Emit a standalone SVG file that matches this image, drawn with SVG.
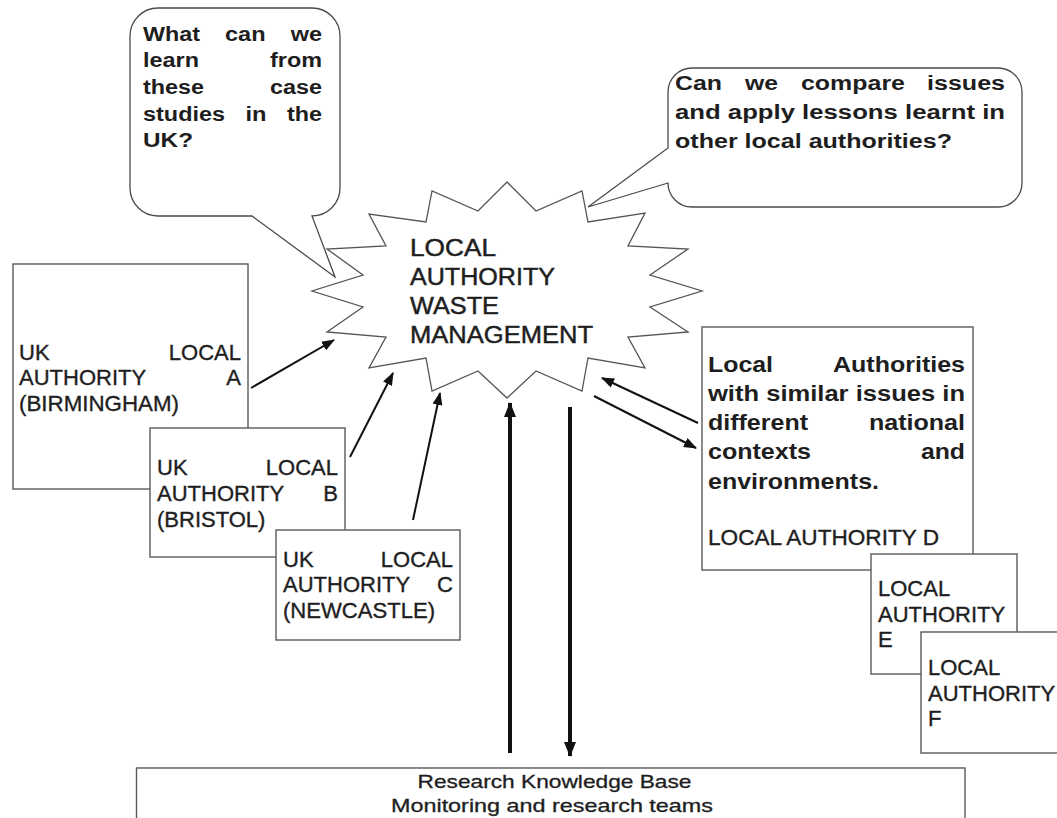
<svg xmlns="http://www.w3.org/2000/svg" width="1057" height="818" viewBox="0 0 1057 818">
<style>
text { font-family: "Liberation Sans", Arial, Helvetica, sans-serif; fill: #1e1e1e; }
.qb { font-size: 20px; font-weight: bold; }
.db { font-size: 22px; font-weight: bold; }
.rg { font-size: 22px; stroke: #1e1e1e; stroke-width: 0.35; }
.st { font-size: 23px; stroke: #1e1e1e; stroke-width: 0.45; }
.bt { font-size: 18.5px; stroke: #1e1e1e; stroke-width: 0.3; }
.box { fill: #fff; stroke: #5a5a5a; stroke-width: 1.4; }
.bub { fill: #fff; stroke: #4a4a4a; stroke-width: 1.3; }
.star { fill: #fff; stroke: #555; stroke-width: 1.3; }
.arr { stroke: #111; stroke-width: 2; fill: none; marker-end: url(#ah); }
.arrv { stroke: #111; stroke-width: 4; fill: none; marker-end: url(#ahb); }
</style>
<defs>
<marker id="ah" markerUnits="userSpaceOnUse" markerWidth="14" markerHeight="10" refX="12" refY="5" orient="auto"><path d="M0,0 L13,5 L0,10 z" fill="#111"/></marker>
<marker id="ahb" markerUnits="userSpaceOnUse" markerWidth="16" markerHeight="12" refX="14" refY="6" orient="auto"><path d="M0,0 L15,6 L0,12 z" fill="#111"/></marker>
</defs>
<rect width="1057" height="818" fill="#fff"/>

<g id="central-star">
<polygon class="star" points="507,182 536,211 582,191 588,222 645,213 628,246 688,249 650,275 702,291 650,307 688,332 628,337 645,368 588,358 582,391 536,371 507,398 478,371 432,391 426,358 369,368 386,337 327,332 363,307 312,291 363,275 327,249 386,246 369,214 426,222 432,191 478,211"/>
<text class="st" x="410" y="256" textLength="86" lengthAdjust="spacingAndGlyphs">LOCAL</text>
<text class="st" x="410" y="285" textLength="145" lengthAdjust="spacingAndGlyphs">AUTHORITY</text>
<text class="st" x="410" y="314" textLength="89" lengthAdjust="spacingAndGlyphs">WASTE</text>
<text class="st" x="410" y="343" textLength="183" lengthAdjust="spacingAndGlyphs">MANAGEMENT</text>
</g>

<g id="bubble-uk">
<path class="bub" d="M158,8 H312 A28,28 0 0 1 340,36 V188 A28,28 0 0 1 312,216 L335,277 L252,216 H158 A28,28 0 0 1 130,188 V36 A28,28 0 0 1 158,8 Z"/>
<text class="qb" x="143" y="41" textLength="57" lengthAdjust="spacingAndGlyphs">What</text>
<text class="qb" x="225" y="41" textLength="40.5" lengthAdjust="spacingAndGlyphs">can</text>
<text class="qb" x="290.7" y="41" textLength="31.3" lengthAdjust="spacingAndGlyphs">we</text>
<text class="qb" x="143" y="67" textLength="56" lengthAdjust="spacingAndGlyphs">learn</text>
<text class="qb" x="270" y="67" textLength="52" lengthAdjust="spacingAndGlyphs">from</text>
<text class="qb" x="143" y="94" textLength="61" lengthAdjust="spacingAndGlyphs">these</text>
<text class="qb" x="270" y="94" textLength="52" lengthAdjust="spacingAndGlyphs">case</text>
<text class="qb" x="143" y="121" textLength="82" lengthAdjust="spacingAndGlyphs">studies</text>
<text class="qb" x="245.5" y="121" textLength="21" lengthAdjust="spacingAndGlyphs">in</text>
<text class="qb" x="287" y="121" textLength="35" lengthAdjust="spacingAndGlyphs">the</text>
<text class="qb" x="143" y="147" textLength="50" lengthAdjust="spacingAndGlyphs">UK?</text>
</g>

<g id="bubble-compare">
<path class="bub" d="M692,68 H998 A24,24 0 0 1 1022,92 V183 A24,24 0 0 1 998,207 H692 A24,24 0 0 1 668,183 L588,207 L668,148 V92 A24,24 0 0 1 692,68 Z"/>
<text class="qb" x="675" y="90" textLength="47" lengthAdjust="spacingAndGlyphs">Can</text>
<text class="qb" x="745" y="90" textLength="33" lengthAdjust="spacingAndGlyphs">we</text>
<text class="qb" x="801" y="90" textLength="104" lengthAdjust="spacingAndGlyphs">compare</text>
<text class="qb" x="927" y="90" textLength="78" lengthAdjust="spacingAndGlyphs">issues</text>
<text class="qb" x="675" y="119" textLength="330" lengthAdjust="spacingAndGlyphs">and apply lessons learnt in</text>
<text class="qb" x="675" y="148" textLength="277" lengthAdjust="spacingAndGlyphs">other local authorities?</text>
</g>

<g id="la-a">
<rect class="box" x="13" y="264" width="235" height="225"/>
<text class="rg" x="19" y="360">UK</text>
<text class="rg" x="241" y="360" text-anchor="end">LOCAL</text>
<text class="rg" x="19" y="385">AUTHORITY</text>
<text class="rg" x="241" y="385" text-anchor="end">A</text>
<text class="rg" x="19" y="411" textLength="160" lengthAdjust="spacingAndGlyphs">(BIRMINGHAM)</text>
</g>

<g id="la-b">
<rect class="box" x="150" y="428" width="195" height="129"/>
<text class="rg" x="157" y="475">UK</text>
<text class="rg" x="338" y="475" text-anchor="end">LOCAL</text>
<text class="rg" x="157" y="501">AUTHORITY</text>
<text class="rg" x="338" y="501" text-anchor="end">B</text>
<text class="rg" x="157" y="527">(BRISTOL)</text>
</g>

<g id="la-c">
<rect class="box" x="276" y="530" width="184" height="110"/>
<text class="rg" x="283" y="567">UK</text>
<text class="rg" x="453" y="567" text-anchor="end">LOCAL</text>
<text class="rg" x="283" y="592">AUTHORITY</text>
<text class="rg" x="453" y="592" text-anchor="end">C</text>
<text class="rg" x="283" y="618" textLength="152" lengthAdjust="spacingAndGlyphs">(NEWCASTLE)</text>
</g>

<g id="la-d">
<rect class="box" x="702" y="327" width="271" height="243"/>
<text class="db" x="708" y="372" textLength="65" lengthAdjust="spacingAndGlyphs">Local</text>
<text class="db" x="833" y="372" textLength="132" lengthAdjust="spacingAndGlyphs">Authorities</text>
<text class="db" x="708" y="401" textLength="257" lengthAdjust="spacingAndGlyphs">with similar issues in</text>
<text class="db" x="708" y="430" textLength="100" lengthAdjust="spacingAndGlyphs">different</text>
<text class="db" x="869" y="430" textLength="96" lengthAdjust="spacingAndGlyphs">national</text>
<text class="db" x="708" y="459" textLength="103" lengthAdjust="spacingAndGlyphs">contexts</text>
<text class="db" x="921" y="459" textLength="44" lengthAdjust="spacingAndGlyphs">and</text>
<text class="db" x="708" y="489" textLength="171" lengthAdjust="spacingAndGlyphs">environments.</text>
<text class="rg" x="708" y="545" textLength="231" lengthAdjust="spacingAndGlyphs">LOCAL AUTHORITY D</text>
</g>

<g id="la-e">
<rect class="box" x="871" y="554" width="146" height="120"/>
<text class="rg" x="878" y="596">LOCAL</text>
<text class="rg" x="878" y="622">AUTHORITY</text>
<text class="rg" x="878" y="647">E</text>
</g>

<g id="la-f">
<rect class="box" x="921" y="632" width="140" height="121"/>
<text class="rg" x="928" y="675">LOCAL</text>
<text class="rg" x="928" y="701">AUTHORITY</text>
<text class="rg" x="928" y="726">F</text>
</g>

<g id="research-base">
<rect class="box" x="136.5" y="768" width="828.5" height="70"/>
<text class="bt" x="417.5" y="788" textLength="274" lengthAdjust="spacingAndGlyphs">Research Knowledge Base</text>
<text class="bt" x="391" y="812" textLength="322" lengthAdjust="spacingAndGlyphs">Monitoring and research teams</text>
</g>

<g id="connectors">
<line class="arr" x1="251" y1="388" x2="334" y2="340"/>
<line class="arr" x1="350" y1="457" x2="393" y2="373"/>
<line class="arr" x1="413" y1="520" x2="440" y2="393"/>
<line class="arrv" x1="510" y1="753" x2="510" y2="403"/>
<line class="arrv" x1="570" y1="407" x2="570" y2="756"/>
<line class="arr" x1="698" y1="423" x2="602" y2="378"/>
<line class="arr" x1="594" y1="396" x2="696" y2="448"/>
</g>
</svg>
